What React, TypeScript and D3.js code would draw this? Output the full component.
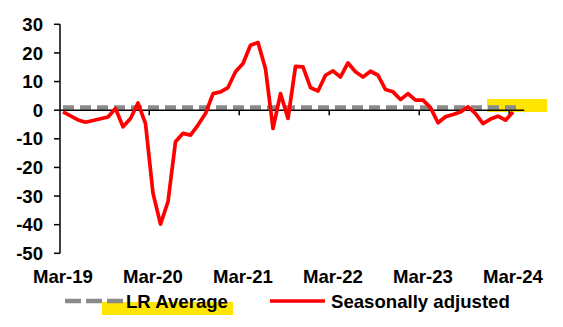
import React from "react";
import * as d3 from "d3";

// Monthly categories Mar-19 .. Apr-24 (axis), data Mar-19 .. Mar-24
const categories: string[] = d3.timeMonth
  .range(new Date(2019, 2, 1), new Date(2024, 4, 1))
  .map((d) => d3.timeFormat("%b-%y")(d));

const seasonallyAdjusted: number[] = [
  -0.6, -2.0, -3.4, -4.2, -3.6, -3.0, -2.4, 0.6, -5.8, -2.9, 2.5, -4.7,
  -29, -39.8, -32, -11, -8.1, -8.7, -5.2, -1.2, 5.8, 6.4, 7.9, 13.4,
  16.3, 22.7, 23.6, 14.5, -6.4, 5.8, -2.9, 15.3, 15.1, 7.9, 6.7, 12.2,
  13.7, 11.6, 16.5, 13.4, 11.6, 13.6, 12.2, 7.2, 6.4, 3.7, 5.8, 3.5,
  3.5, 0.9, -4.4, -2.3, -1.5, -0.6, 1.2, -1.2, -4.7, -3.1, -2.1, -3.5,
  -0.6,
];

const lrAverage = 0.9;

const yTicks: number[] = [30, 20, 10, 0, -10, -20, -30, -40, -50];
const xTickLabels: string[] = ["Mar-19", "Mar-20", "Mar-21", "Mar-22", "Mar-23", "Mar-24"];

const legendLabels = { lr: "LR Average", sa: "Seasonally adjusted" };

const W = 563;
const H = 327;
const FONT = "'Liberation Sans', Arial, sans-serif";
const FS = 18.6;

export default function App() {
  const x = d3.scaleBand<string>().domain(categories).range([59.25, 524.25]).padding(0);
  const y = d3.scaleLinear().domain([-50, 30]).range([253.3, 24.3]);
  const bw = x.bandwidth();
  const cx = (c: string) => (x(c) as number) + bw / 2;

  const saLine = d3
    .line<number>()
    .x((_, i) => cx(categories[i]))
    .y((d) => y(d));

  const lrLine = d3
    .line<string>()
    .x((c) => cx(c))
    .y(() => y(lrAverage));

  const y0 = y(0);
  const axisX = 60;

  const boundaryTicks = xTickLabels.slice(1).map((l) => x(l) as number);

  return (
    <svg
      width={W}
      height={H}
      style={{ position: "absolute", left: 0, top: 0, background: "#fff" }}
      fontFamily={FONT}
      fontWeight="bold"
    >
      {/* highlight box on chart */}
      <rect x={487} y={99} width={60} height={13} fill="#FFE500" />

      {/* y axis */}
      <line x1={axisX} x2={axisX} y1={y(30)} y2={y(-50)} stroke="#000" strokeWidth={1.5} />
      {yTicks.map((t) => (
        <g key={t}>
          <line x1={axisX - 6} x2={axisX} y1={y(t)} y2={y(t)} stroke="#000" strokeWidth={1.5} />
          <text x={43} y={y(t)} dy="0.36em" textAnchor="end" fontSize={FS} fill="#000">
            {t}
          </text>
        </g>
      ))}

      {/* LR average dashed */}
      <path
        d={lrLine(categories) || ""}
        fill="none"
        stroke="#8a8a8a"
        strokeWidth={4.5}
        strokeDasharray="11,6"
      />

      {/* x axis line at zero */}
      <line x1={axisX} x2={524.25} y1={y0} y2={y0} stroke="#000" strokeWidth={1.5} />
      {boundaryTicks.map((bx, i) => (
        <line key={i} x1={bx} x2={bx} y1={y0} y2={y0 + 5} stroke="#000" strokeWidth={1.5} />
      ))}

      {/* seasonally adjusted */}
      <path
        d={saLine(seasonallyAdjusted) || ""}
        fill="none"
        stroke="#FF0000"
        strokeWidth={3.7}
        strokeLinejoin="round"
      />

      {/* x labels */}
      {xTickLabels.map((l) => (
        <text key={l} x={cx(l)} y={282.5} textAnchor="middle" fontSize={FS} fill="#000">
          {l}
        </text>
      ))}

      {/* legend */}
      <rect x={102} y={302} width={131} height={13} fill="#FFE500" />
      <line x1={65} x2={123} y1={301} y2={301} stroke="#8a8a8a" strokeWidth={4.5} strokeDasharray="16,5" />
      <text x={126} y={307.5} fontSize={FS} fill="#000">
        {legendLabels.lr}
      </text>
      <line x1={270} x2={325} y1={301} y2={301} stroke="#FF0000" strokeWidth={3.7} />
      <text x={331} y={307.5} fontSize={FS} fill="#000">
        {legendLabels.sa}
      </text>
    </svg>
  );
}
